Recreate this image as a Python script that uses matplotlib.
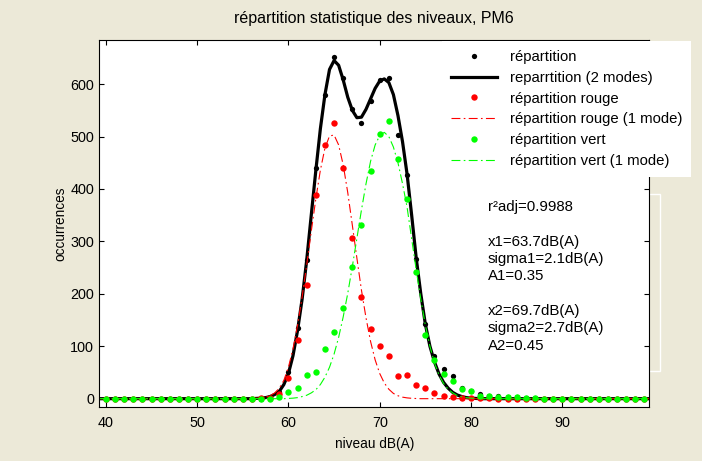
import matplotlib.pyplot as plt
import matplotlib.patches as patches
import numpy as np

plt.rcParams['font.family'] = ['Liberation Sans', 'DejaVu Sans']
plt.rcParams['font.size'] = 10.4

# niveaux mesurés, pas de 1 dB(A)
niveaux = np.arange(40, 100)

repartition = [0, 0, 0, 0, 0, 0, 0, 0, 0, 0,
               0, 0, 0, 0, 0, 0, 0, 0, 3, 12,
               50, 134, 264, 440, 579, 652, 611, 552, 526, 567,
               607, 611, 503, 427, 267, 143, 82, 56, 44, 20,
               15, 8, 6, 5, 4, 3, 2, 1, 0, 0,
               0, 0, 0, 0, 0, 0, 0, 0, 0, 0]

rouge = [0, 0, 0, 0, 0, 0, 0, 0, 0, 0,
         0, 0, 0, 0, 0, 0, 0, 1, 2, 9,
         39, 112, 217, 388, 484, 525, 440, 306, 194, 133,
         101, 81, 44, 46, 27, 20, 10, 6, 3, 2,
         2, 1, 1, 0, 0, 0, 0, 0, 0, 0,
         0, 0, 0, 0, 0, 0, 0, 0, 0, 0]

vert = [0, 0, 0, 0, 0, 0, 0, 0, 0, 0,
        0, 0, 0, 0, 0, 0, 0, 0, 0, 3,
        12, 21, 46, 50, 95, 128, 173, 252, 331, 434,
        505, 530, 458, 381, 241, 121, 73, 48, 34, 18,
        14, 6, 5, 4, 4, 3, 2, 1, 0, 0,
        0, 0, 0, 0, 0, 0, 0, 0, 0, 0]

# courbes ajustées, lues de 55 à 85 dB(A) par pas de 0.5
fit_x = np.arange(55, 85.5, 0.5)

fit_2modes = [0, 0, 0, 0.5, 1, 2, 4, 8, 14, 27,
              48, 82, 130, 190, 264, 350, 435, 515, 580, 628,
              645, 636, 608, 575, 550, 536, 537, 552, 572, 592,
              606, 610, 603, 580, 540, 490, 428, 350, 268, 200,
              142, 100, 70, 47, 31, 20, 12, 7, 4, 2,
              1, 0.5, 0, 0, 0, 0, 0, 0, 0, 0, 0]

fit_rouge = [0, 0, 0.3, 0.7, 1.5, 3, 6, 11, 20, 35,
             60, 95, 140, 194, 255, 319, 381, 436, 478, 501,
             503, 484, 446, 393, 331, 268, 207, 154, 109, 74,
             48, 30, 18, 10, 5.6, 2.9, 1.5, 0.7, 0.3, 0,
             0, 0, 0, 0, 0, 0, 0, 0, 0, 0,
             0, 0, 0, 0, 0, 0, 0, 0, 0, 0, 0]

fit_vert = [0, 0, 0, 0, 0, 0, 0, 0, 0, 0,
            0.5, 1, 2, 4, 6.5, 11, 17, 27, 41, 60,
            85, 117, 156, 201, 252, 306, 360, 410, 453, 484,
            502, 508, 500, 480, 450, 410, 365, 305, 245, 190,
            140, 100, 68, 45, 29, 18, 11, 6, 3.5, 2,
            1, 0.5, 0, 0, 0, 0, 0, 0, 0, 0, 0]

texte = ("r²adj=0.9988\n\nx1=63.7dB(A)\nsigma1=2.1dB(A)\nA1=0.35\n\n"
         "x2=69.7dB(A)\nsigma2=2.7dB(A)\nA2=0.45")

xmin, xmax = 39.3, 99.5
ymin, ymax = -16, 684

fig = plt.figure(figsize=(7.02, 4.61), dpi=100, facecolor='#ece9d8')
ax = fig.add_axes([0.1417, 0.117, 0.7828, 0.796])

xx = np.r_[xmin, fit_x, xmax]

def etendre(v):
    return np.r_[0, v, 0]

vert_vif = '#00ff00'
tirets = (8, 3, 1.5, 3)

ax.plot(niveaux, repartition, 'o', color='black', ms=3.8, mew=0, label='répartition')
ax.plot(xx, etendre(fit_2modes), '-', color='black', lw=2.3, label='reparrtition (2 modes)')
ax.plot(niveaux, rouge, 'o', color='red', ms=4.6, mew=0, label='répartition rouge')
ax.plot(xx, etendre(fit_rouge), color='red', lw=0.8, dashes=tirets, label='répartition rouge (1 mode)')
ax.plot(niveaux, vert, 'o', color=vert_vif, ms=4.6, mew=0, label='répartition vert')
ax.plot(xx, etendre(fit_vert), color=vert_vif, lw=0.8, dashes=tirets, label='répartition vert (1 mode)')

ax.set_xlim(xmin, xmax)
ax.set_ylim(ymin, ymax)
ax.set_xticks(range(40, 100, 10))
ax.set_yticks(range(0, 700, 100))
ax.tick_params(direction='in', top=True, right=True, length=3.5, width=0.8, labelsize=10.4)
ax.tick_params(axis='x', pad=6.5)
ax.tick_params(axis='y', pad=4)
for s in ax.spines.values():
    s.set_linewidth(0.8)

ax.set_title('répartition statistique des niveaux, PM6', pad=12, fontsize=11.5)
ax.set_xlabel('niveau dB(A)', labelpad=5, fontsize=9.8)
ax.set_ylabel('occurrences', labelpad=2, fontsize=9.8)

leg = ax.legend(loc='upper left', bbox_to_anchor=(442 / 702, 1 - 41 / 461),
                bbox_transform=fig.transFigure, frameon=True, fancybox=False,
                edgecolor='none', facecolor='white', framealpha=1,
                handlelength=3.1, handletextpad=0.87, labelspacing=0.46,
                borderpad=0.6, borderaxespad=0, numpoints=1, fontsize=10.7)

fig.text(488 / 702, 1 - 276.5 / 461, texte, ha='left', va='center',
         linespacing=1.3, fontsize=10.8)
cadre = patches.Rectangle((478 / 702, 1 - 371 / 461), (660 - 478) / 702, (371 - 194) / 461,
                          transform=fig.transFigure, fill=False, edgecolor='white',
                          lw=1, zorder=-1)
fig.add_artist(cadre)

fig.savefig('out.png', dpi=100, facecolor=fig.get_facecolor())
